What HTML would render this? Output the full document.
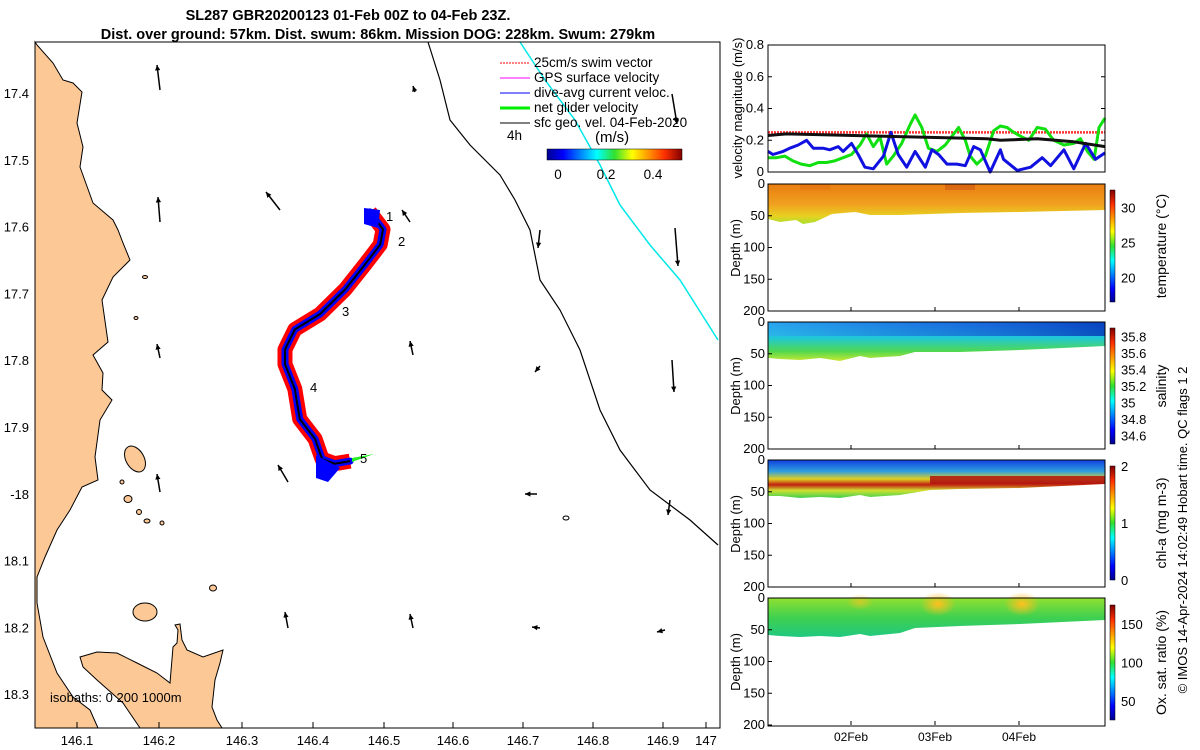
<!DOCTYPE html>
<html><head><meta charset="utf-8"><style>
body{margin:0;background:#fff;}
svg{display:block;font-family:"Liberation Sans",sans-serif;}
</style></head><body>
<svg id="c" width="1200" height="750" viewBox="0 0 1200 750">
<defs>
<linearGradient id="jetV" x1="0" y1="1" x2="0" y2="0">
<stop offset="0" stop-color="#00008f"/><stop offset="0.12" stop-color="#0000ff"/><stop offset="0.37" stop-color="#00ffff"/><stop offset="0.5" stop-color="#30e030"/><stop offset="0.63" stop-color="#ffff00"/><stop offset="0.87" stop-color="#ff3000"/><stop offset="1" stop-color="#800000"/></linearGradient>
<linearGradient id="jetH" x1="0" y1="0" x2="1" y2="0">
<stop offset="0" stop-color="#00008f"/><stop offset="0.12" stop-color="#0000ff"/><stop offset="0.37" stop-color="#00ffff"/><stop offset="0.5" stop-color="#30e030"/><stop offset="0.63" stop-color="#ffff00"/><stop offset="0.87" stop-color="#ff3000"/><stop offset="1" stop-color="#800000"/></linearGradient>
<linearGradient id="tempG" x1="0" y1="0" x2="0" y2="1"><stop offset="0" stop-color="#e87d10"/><stop offset="0.5" stop-color="#f0a020"/><stop offset="0.8" stop-color="#e8d020"/><stop offset="1" stop-color="#a8e030"/></linearGradient>
<linearGradient id="salG" x1="0" y1="0" x2="0" y2="1"><stop offset="0" stop-color="#2090f0"/><stop offset="0.4" stop-color="#20c8d8"/><stop offset="0.75" stop-color="#50d850"/><stop offset="1" stop-color="#c8e830"/></linearGradient>
<linearGradient id="salH" x1="0" y1="0" x2="1" y2="0"><stop offset="0" stop-color="#30b0f0" stop-opacity="0.6"/><stop offset="0.6" stop-color="#1040d0" stop-opacity="0.5"/><stop offset="1" stop-color="#0020b0" stop-opacity="0.7"/></linearGradient>
<linearGradient id="chlG" x1="0" y1="0" x2="0" y2="1"><stop offset="0" stop-color="#1040e0"/><stop offset="0.3" stop-color="#30a0e0"/><stop offset="0.5" stop-color="#e0d020"/><stop offset="0.65" stop-color="#c02010"/><stop offset="0.8" stop-color="#d0e030"/><stop offset="1" stop-color="#40d050"/></linearGradient>
<linearGradient id="oxG" x1="0" y1="0" x2="0" y2="1"><stop offset="0" stop-color="#90e030"/><stop offset="0.5" stop-color="#40d050"/><stop offset="1" stop-color="#20c880"/></linearGradient>
<radialGradient id="hot"><stop offset="0" stop-color="#ffc020"/><stop offset="1" stop-color="#ffc020" stop-opacity="0"/></radialGradient>
</defs>

<text x="348" y="20" text-anchor="middle" font-size="14.5" font-weight="bold">SL287 GBR20200123 01-Feb 00Z to 04-Feb 23Z.</text>
<text x="378" y="39" text-anchor="middle" font-size="14.5" font-weight="bold">Dist. over ground: 57km. Dist. swum: 86km. Mission DOG: 228km. Swum: 279km</text>

<g id="map">
<polygon fill="#fcc896" stroke="#000" stroke-width="1" points="35,42 37,45 53,63 63,80 73,83 82,92 77,123 83,147 80,167 93,203 113,220 118,230 123,243 130,260 113,277 102,300 108,342 93,355 103,373 102,390 112,400 100,420 95,457 98,480 82,487 70,510 57,530 45,557 37,577 37,603 43,637 57,673 73,697 90,710 98,728 35,728"/>
<polygon fill="#fcc896" stroke="#000" stroke-width="1" points="80,657 97,652 117,653 137,663 157,673 170,683 173,647 177,643 178,630 175,625 180,624 182,640 187,650 203,657 223,650 220,663 215,680 212,707 217,720 222,728 140,728 123,703 97,680 83,667"/>
<ellipse cx="135" cy="459" rx="9" ry="14" transform="rotate(-30 135 459)" fill="#fcc896" stroke="#000"/>
<ellipse cx="145" cy="612" rx="12" ry="9" fill="#fcc896" stroke="#000"/>
<ellipse cx="128" cy="499" rx="4" ry="3.5" fill="#fcc896" stroke="#000"/><ellipse cx="139" cy="512" rx="2.5" ry="2.5" fill="#fcc896" stroke="#000"/><ellipse cx="147" cy="521" rx="3" ry="2" fill="#fcc896" stroke="#000"/><ellipse cx="162" cy="523" rx="2" ry="2" fill="#fcc896" stroke="#000"/><ellipse cx="122" cy="482" rx="2" ry="2" fill="#fcc896" stroke="#000"/><ellipse cx="213" cy="588" rx="3.5" ry="3" fill="#fcc896" stroke="#000"/><ellipse cx="145" cy="277" rx="2.5" ry="1.5" fill="#fcc896" stroke="#000"/><ellipse cx="136" cy="318" rx="2" ry="1.5" fill="#fcc896" stroke="#000"/><ellipse cx="566" cy="518" rx="3" ry="2" fill="none" stroke="#000"/>
<polyline id="iso1000" fill="none" stroke="#000" stroke-width="1.2" points="428,42 440,80 450,120 470,145 500,175 515,200 530,230 540,280 560,310 580,350 600,410 620,450 650,490 690,520 718,545"/>
<polyline fill="none" stroke="#00e8e8" stroke-width="1.5" points="520,42 545,80 575,120 600,165 620,205 650,245 680,280 718,340"/>
<g id="arrows"></g>
<g id="track"></g>
<rect x="35" y="42" width="685" height="686" fill="none" stroke="#000"/>
<g id="maptick" font-size="13"></g>
<text x="50" y="702" font-size="13">isobaths: 0   200  1000m</text>
<g font-size="13.5">
<line x1="500" y1="63" x2="530" y2="63" stroke="red" stroke-dasharray="2,1"/><text x="534" y="67">25cm/s swim vector</text>
<line x1="500" y1="78" x2="530" y2="78" stroke="#f0f"/><text x="534" y="82">GPS surface velocity</text>
<line x1="500" y1="93" x2="530" y2="93" stroke="#00f"/><text x="534" y="97">dive-avg current veloc.</text>
<line x1="500" y1="108" x2="530" y2="108" stroke="#0e0" stroke-width="3"/><text x="534" y="112">net glider velocity</text>
<line x1="500" y1="123" x2="530" y2="123" stroke="#000"/><text x="534" y="127">sfc geo. vel. 04-Feb-2020</text>
<text x="507" y="140">4h</text><text x="595" y="142" font-size="15">(m/s)</text>
<rect x="547" y="149" width="135" height="11" fill="url(#jetH)" stroke="#000" stroke-width="0.5"/>
<text x="558" y="179" text-anchor="middle">0</text><text x="606" y="179" text-anchor="middle">0.2</text><text x="653" y="179" text-anchor="middle">0.4</text>
</g>
</g>

<g id="vel"></g>

<g id="sections">
<g>
<polygon fill="url(#tempG)" points="768,184 1105,184 1105,210 1020,212 960,213 900,215 870,215 855,212 832,214 815,222 803,224 796,220 780,222 768,219"/>
<rect x="800" y="184" width="30" height="6" fill="#e06010" opacity="0.3"/><rect x="945" y="184" width="30" height="6" fill="#c04010" opacity="0.4"/>
<rect x="768" y="184" width="337" height="127" fill="none" stroke="#000"/>
</g>
<g>
<polygon fill="url(#salG)" points="768,322 1105,322 1105,346 1020,350 960,352 915,352 900,356 870,358 860,356 840,361 820,358 800,360 780,359 768,358"/>
<rect x="768" y="322" width="337" height="14" fill="url(#salH)"/>
<rect x="768" y="322" width="337" height="127" fill="none" stroke="#000"/>
</g>
<g>
<polygon fill="url(#chlG)" points="768,460 1105,460 1105,484 1020,488 960,489 930,490 900,495 870,497 860,495 840,498 820,497 800,498 780,496 768,496"/>
<rect x="930" y="476" width="175" height="8" fill="#b01010" opacity="0.85"/>
<rect x="768" y="460" width="337" height="127" fill="none" stroke="#000"/>
</g>
<g>
<polygon fill="url(#oxG)" points="768,598 1105,598 1105,620 1020,624 960,626 915,628 900,633 870,636 860,634 840,637 820,636 800,637 780,636 768,635"/>
<ellipse cx="938" cy="604" rx="18" ry="12" fill="url(#hot)"/><ellipse cx="1022" cy="604" rx="18" ry="12" fill="url(#hot)"/><ellipse cx="860" cy="602" rx="14" ry="8" fill="url(#hot)" opacity="0.6"/>
<rect x="768" y="598" width="337" height="128" fill="none" stroke="#000"/>
</g>
<g id="depthticks" font-size="13"></g>
<g id="cbars" font-size="13"></g>
<text x="851" y="741" text-anchor="middle" font-size="12">02Feb</text>
<text x="935" y="741" text-anchor="middle" font-size="12">03Feb</text>
<text x="1019" y="741" text-anchor="middle" font-size="12">04Feb</text>
</g>
<text transform="translate(1187,530) rotate(-90)" text-anchor="middle" font-size="13">© IMOS 14-Apr-2024 14:02:49 Hobart time. QC flags 1  2</text>
</svg>
<script>
const NS="http://www.w3.org/2000/svg";
function mk(tag,attrs,parent,txt){const e=document.createElementNS(NS,tag);for(const k in attrs)e.setAttribute(k,attrs[k]);if(txt!==undefined)e.textContent=txt;parent.appendChild(e);return e;}

// ---- velocity panel data (hours since 01-Feb 00Z) ----
const greenT=[0,2.4,4.8,7.1,9.5,11.9,14.3,16.7,19,21.4,23.8,26.2,28.1,30,31.9,33.8,35.7,38.1,40.5,41.9,43.8,45.7,48.1,50.5,52.9,54.3,56.2,57.6,59.5,61.9,64.3,66.2,68.1,70,72.4,74.3,76.7,79,81.4,84.3,87.1,89,91,92.9,94.3,96];
const greenV=[0.09,0.09,0.10,0.07,0.05,0.04,0.06,0.06,0.07,0.09,0.11,0.17,0.24,0.16,0.22,0.05,0.10,0.18,0.30,0.36,0.28,0.15,0.13,0.17,0.24,0.28,0.20,0.10,0.05,0.10,0.26,0.29,0.28,0.25,0.22,0.20,0.28,0.27,0.20,0.17,0.18,0.21,0.13,0.08,0.28,0.34];
const blueT=[0,1.4,4.3,6.2,8.6,11,12.9,15.7,17.6,20,21.4,23.8,25.7,27.6,30,32.9,35,37.1,39.5,41.9,44.8,46.7,48.6,51,53.8,56.2,58.6,60.5,63.3,66.2,67.1,71,74.8,78.1,80.5,84.3,87.1,90.5,93.3,96];
const blueV=[0.13,0.11,0.13,0.15,0.17,0.20,0.15,0.15,0.14,0.16,0.13,0.18,0.11,0.03,0.02,0.10,0.25,0.11,0.03,0.13,0.03,0.14,0.11,0.05,0.05,0.04,0.16,0.14,0.00,0.14,0.08,0.01,0.03,0.09,0.04,0.14,0.02,0.18,0.08,0.12];
const blackT=[0,5.2,43.3,62.4,66.2,76.7,87.1,96];
const blackV=[0.23,0.24,0.22,0.21,0.20,0.21,0.19,0.16];
const swimV=0.25;
const velTicks=[0,0.2,0.4,0.6,0.8];

const vx=t=>768+t/96*337, vy=v=>172-v/0.8*127;
const vel=document.getElementById('vel');
mk('line',{x1:768,y1:vy(swimV),x2:1105,y2:vy(swimV),stroke:'#f33','stroke-width':2.5,'stroke-dasharray':'2,1',},vel);
function series(T,V,col,w,name){const p=T.map((t,i)=>vx(t).toFixed(1)+','+vy(V[i]).toFixed(1)).join(' ');const e=mk('polyline',{points:p,fill:'none',stroke:col,'stroke-width':w,'stroke-linejoin':'round'},vel);

}
series(greenT,greenV,'#10e010',3,'net-glider-speed-line');
series(blueT,blueV,'#1010e0',3,'current-speed-line');
series(blackT,blackV,'#111',3,'geostrophic-speed-line');
mk('rect',{x:768,y:45,width:337,height:127,fill:'none',stroke:'#000'},vel);
velTicks.forEach(v=>{const t=mk('text',{x:764,y:vy(v)+4,'text-anchor':'end','font-size':13},vel,v===0?'0':String(v));


mk('line',{x1:768,y1:vy(v),x2:772,y2:vy(v),stroke:'#000'},vel);mk('line',{x1:1101,y1:vy(v),x2:1105,y2:vy(v),stroke:'#000'},vel);});
mk('text',{transform:'translate(742,108) rotate(-90)','text-anchor':'middle','font-size':13,},vel,'velocity magnitude (m/s)');

// ---- depth ticks ----
const depthTicks=[0,50,100,150,200];
const panelTops=[184,322,460,598];
const dt=document.getElementById('depthticks');
panelTops.forEach(top=>{depthTicks.forEach(d=>{const y=top+d/200*127;
const t=mk('text',{x:765,y:y+4,'text-anchor':'end'},dt,String(d));


mk('line',{x1:768,y1:y,x2:772,y2:y,stroke:'#000'},dt);});
mk('text',{transform:`translate(740,${top+64}) rotate(-90)`,'text-anchor':'middle',},dt,'Depth (m)');
[851,935,1019].forEach(x=>mk('line',{x1:x,y1:top+127,x2:x,y2:top+123,stroke:'#000'},dt));});

// ---- colorbars ----
const cbDefs=[
{top:190,bot:302,min:16.5,max:32.5,ticks:[20,25,30],label:'temperature (°C)'},
{top:328,bot:444,min:34.5,max:35.9,ticks:[34.6,34.8,35,35.2,35.4,35.6,35.8],label:'salinity'},
{top:466,bot:580,min:0,max:2,ticks:[0,1,2],label:'chl-a (mg m-3)'},
{top:605,bot:720,min:25,max:175,ticks:[50,100,150],label:'Ox. sat. ratio (%)'}];
const cb=document.getElementById('cbars');
cbDefs.forEach(c=>{mk('rect',{x:1110,y:c.top,width:5,height:c.bot-c.top,fill:'url(#jetV)',stroke:'#000','stroke-width':0.5,},cb);
c.ticks.forEach(v=>{const y=c.bot-(v-c.min)/(c.max-c.min)*(c.bot-c.top);mk('text',{x:1121,y:y+5},cb,String(v));});
mk('text',{transform:`translate(1166,${(c.top+c.bot)/2}) rotate(-90)`,'text-anchor':'middle','font-size':14,},cb,c.label);});

// ---- map ticks ----
const lonTicks=['146.1','146.2','146.3','146.4','146.5','146.6','146.7','146.8','146.9','147'];
const lonPos=[77,159,242,313,384,453,523,593,663,706];
const latTicks=['17.4','17.5','17.6','17.7','17.8','17.9','-18','18.1','18.2','18.3'];
const mt=document.getElementById('maptick');
lonTicks.forEach((l,i)=>{const t=mk('text',{x:lonPos[i],y:745,'text-anchor':'middle'},mt,l);


mk('line',{x1:lonPos[i],y1:728,x2:lonPos[i],y2:722,stroke:'#000'},mt);});
latTicks.forEach((l,i)=>{const y=93+i*66.8;const t=mk('text',{x:29,y:y+5,'text-anchor':'end'},mt,l);

});

// ---- track (lon, lat) ----
const trackLon=[146.481,146.500,146.496,146.474,146.446,146.410,146.374,146.360,146.360,146.374,146.381,146.403,146.413,146.431,146.453];
const trackLat=[17.578,17.604,17.627,17.657,17.694,17.731,17.754,17.784,17.806,17.843,17.888,17.918,17.948,17.955,17.951];
const mx=l=>313+(l-146.4)*700, my=l=>93+(l-17.4)*668;
const tr=document.getElementById('track');
const tp=trackLon.map((l,i)=>mx(l).toFixed(1)+','+my(trackLat[i]).toFixed(1)).join(' ');
const r=mk('polyline',{points:tp,fill:'none',stroke:'#f00','stroke-width':15,'stroke-linejoin':'round','stroke-linecap':'butt'},tr);


const b=mk('polyline',{points:tp,fill:'none',stroke:'#00f','stroke-width':7,'stroke-linejoin':'round','stroke-linecap':'round'},tr);


const k=mk('polyline',{points:tp,fill:'none',stroke:'#000','stroke-width':2},tr);


mk('polygon',{points:'364,208 380,210 378,228 364,224',fill:'#00f'},tr);
mk('polygon',{points:'316,455 340,468 328,482 316,478',fill:'#00f'},tr);
mk('polygon',{points:'352,458 374,454 352,462',fill:'#2e2'},tr);
const labs=[['1',386,221],['2',398,246],['3',342,316],['4',310,392],['5',360,463]];
labs.forEach(a=>mk('text',{x:a[1],y:a[2],'font-size':13},tr,a[0]));

// ---- geostrophic arrows (x,y base, dx,dy) ----
const arrX=[160,415,672,160,280,410,540,675,160,413,540,672,160,288,537,670,288,413,540,665];
const arrY=[90,92,94,222,210,222,230,228,358,355,366,360,492,482,494,500,628,628,628,630];
const arrU=[-3,-2,5,-2,-14,-8,-2,3,-3,-3,-5,2,-3,-10,-12,-2,-3,-3,-8,-8];
const arrV=[-25,-6,30,-25,-18,-12,18,38,-14,-14,6,32,-18,-17,0,15,-16,-14,-1,2];
const ag=document.getElementById('arrows');
arrX.forEach((x,i)=>{const x2=x+arrU[i],y2=arrY[i]+arrV[i];const a=Math.atan2(arrV[i],arrU[i]);
const g=mk('g',{},ag);


mk('line',{x1:x,y1:arrY[i],x2:x2,y2:y2,stroke:'#000','stroke-width':1.5},g);
const h=6,w=0.45;mk('polygon',{points:`${x2},${y2} ${x2-h*Math.cos(a-w)},${y2-h*Math.sin(a-w)} ${x2-h*Math.cos(a+w)},${y2-h*Math.sin(a+w)}`,fill:'#000'},g);});
</script>
</body></html>
